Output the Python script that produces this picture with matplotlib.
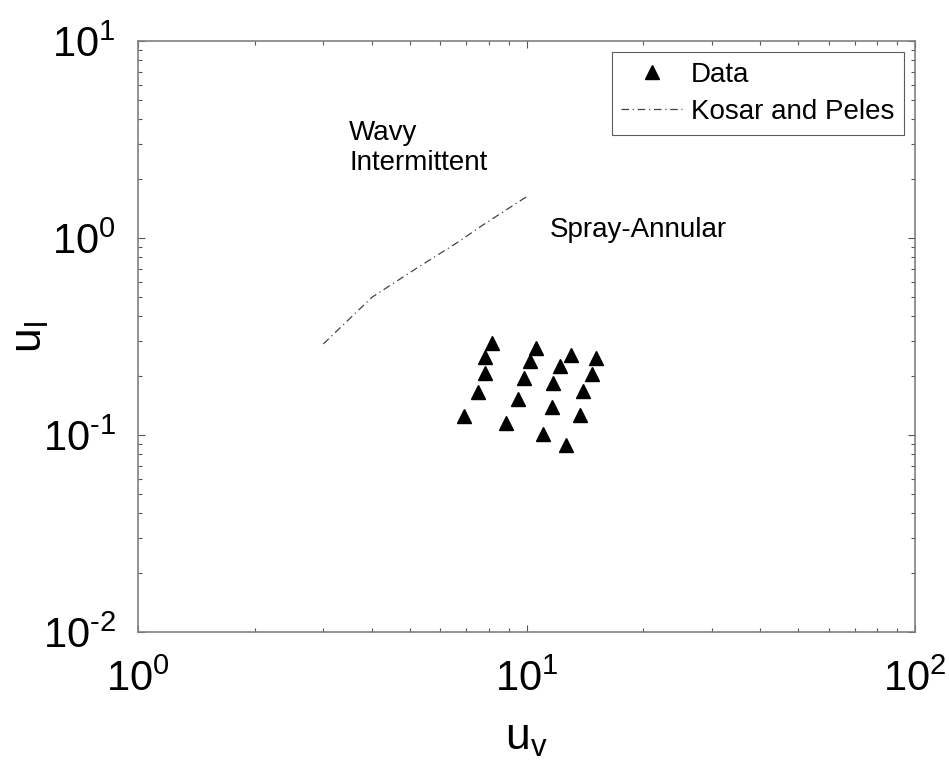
import matplotlib
matplotlib.use("Agg")
import matplotlib.pyplot as plt
from matplotlib.ticker import FixedLocator, LogLocator, NullFormatter

plt.rcParams["font.family"] = ["Liberation Sans", "DejaVu Sans"]
plt.rcParams["mathtext.fontset"] = "custom"
plt.rcParams["mathtext.rm"] = "Liberation Sans"
plt.rcParams["mathtext.it"] = "Liberation Sans"

# measured data (u_v, u_l)
data_uv = [6.9, 7.5, 7.8, 7.8, 8.15, 8.85, 9.5, 9.85, 10.2, 10.6,
           11.0, 11.6, 11.7, 12.2, 12.6, 13.0, 13.7, 14.0, 14.7, 15.1]
data_ul = [0.125, 0.165, 0.207, 0.25, 0.292, 0.115, 0.153, 0.195, 0.238, 0.278,
           0.101, 0.139, 0.184, 0.223, 0.089, 0.256, 0.126, 0.168, 0.205, 0.245]

# Kosar and Peles transition line
kp_uv = [3.0, 4.0, 5.2, 6.7, 7.7, 10.0]
kp_ul = [0.29, 0.50, 0.70, 0.96, 1.16, 1.62]

x_ticks = [1, 10, 100]
x_labels = [r"$\mathregular{10^{0}}$", r"$\mathregular{10^{1}}$", r"$\mathregular{10^{2}}$"]
y_ticks = [0.01, 0.1, 1, 10]
y_labels = [r"$\mathregular{10^{\text{-}2}}$", r"$\mathregular{10^{\text{-}1}}$",
            r"$\mathregular{10^{0}}$", r"$\mathregular{10^{1}}$"]

fig = plt.figure(figsize=(9.49, 7.64), dpi=100)
ax = fig.add_axes([0.1454, 0.1728, 0.8188, 0.7735])

ax.plot(data_uv, data_ul, linestyle="none", marker="^", color="black",
        markersize=10, label="Data")
ax.plot(kp_uv, kp_ul, linestyle=(0, (6, 3, 1, 3)), color="#444444", lw=0.9,
        label="Kosar and Peles")

ax.set_xscale("log")
ax.set_yscale("log")
ax.set_xlim(1, 100)
ax.set_ylim(0.01, 10)

ax.xaxis.set_major_locator(FixedLocator(x_ticks))
ax.set_xticklabels(x_labels)
ax.yaxis.set_major_locator(FixedLocator(y_ticks))
ax.set_yticklabels(y_labels)
ax.xaxis.set_minor_locator(LogLocator(base=10, subs=range(2, 10)))
ax.yaxis.set_minor_locator(LogLocator(base=10, subs=range(2, 10)))
ax.xaxis.set_minor_formatter(NullFormatter())
ax.yaxis.set_minor_formatter(NullFormatter())

ax.tick_params(which="both", direction="in", top=True, right=True,
               color="#555555", labelsize=30, width=0.8)
ax.tick_params(which="major", length=5)
ax.tick_params(axis="x", which="major", pad=20)
ax.tick_params(axis="y", which="major", pad=16)
ax.tick_params(which="minor", length=3)
for s in ax.spines.values():
    s.set_color("#808080")
    s.set_linewidth(1.2)

ax.set_xlabel(r"$\mathregular{u_v}$", fontsize=32)
ax.set_ylabel(r"$\mathregular{u_l}$", fontsize=32)
ax.xaxis.set_label_coords(0.5, -0.145)
ax.yaxis.set_label_coords(-0.112, 0.5)

ax.text(3.5, 2.85, "Wavy\nIntermittent", fontsize=20, va="center", ha="left",
        linespacing=1.2)
ax.text(11.5, 1.1, "Spray-Annular", fontsize=20, va="center", ha="left")

leg = ax.legend(loc="upper right", fontsize=20, frameon=True, fancybox=False,
                edgecolor="#333333", handlelength=2.2, handletextpad=0.3,
                borderpad=0.35, labelspacing=0.4, borderaxespad=0.4)
leg.get_frame().set_linewidth(0.8)

fig.savefig("out.png", dpi=100)
